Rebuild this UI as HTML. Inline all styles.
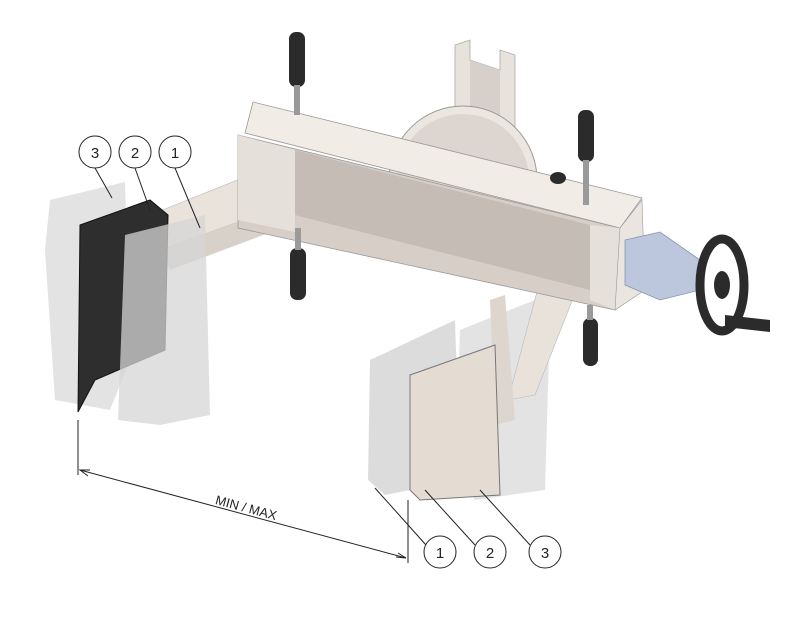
<!DOCTYPE html>
<html><head><meta charset="utf-8"><style>html,body{margin:0;padding:0;background:#fff}svg{display:block}</style></head>
<body>
<svg width="800" height="618" viewBox="0 0 800 618" xmlns="http://www.w3.org/2000/svg" font-family="Liberation Sans, sans-serif">
<!-- post -->
<polygon points="455,45 470,40 470,60 500,70 500,50 515,55 515,150 455,135" fill="#e8e2dc" stroke="#aaa" stroke-width="0.8"/>
<polygon points="470,60 500,70 500,150 470,140" fill="#d7d0ca"/>
<!-- disc -->
<circle cx="463" cy="180" r="74" fill="#ece6e0" stroke="#999" stroke-width="1"/>
<circle cx="463" cy="180" r="66" fill="#ddd6d0"/>
<!-- left arm -->
<polygon points="150,215 275,165 285,205 160,250" fill="#e9e3dc" stroke="#bbb" stroke-width="0.6"/>
<polygon points="160,250 285,205 290,225 170,270" fill="#d8d1ca"/>
<!-- right paddles back -->
<polygon points="460,330 535,300 550,320 545,490 475,500 455,470" fill="#dcdcdc" opacity="0.8"/>
<polygon points="370,360 455,320 460,480 385,495 368,480" fill="#d3d3d3" opacity="0.8"/>
<!-- right arm -->
<polygon points="545,262 575,252 585,268 535,395 508,400" fill="#e9e2db" stroke="#bbb" stroke-width="0.6"/>
<polygon points="490,300 505,295 515,420 495,425" fill="#ddd6cf"/>
<!-- right paddle 2 -->
<polygon points="410,375 495,345 500,495 420,500 410,490" fill="#e4dcd3" stroke="#777" stroke-width="1"/>
<!-- beam -->
<polygon points="245,133 253,102 642,198 620,228" fill="#f1ece6" stroke="#999" stroke-width="0.8"/>
<polygon points="238,135 620,228 615,310 238,228" fill="#d6cec7" stroke="#999" stroke-width="0.8"/>
<polygon points="295,150 590,225 590,290 295,215" fill="#c5bcb5"/>
<polygon points="238,135 295,150 295,232 238,220" fill="#e6e0da"/>
<polygon points="590,225 620,228 615,310 590,300" fill="#e6e0da"/>
<polygon points="620,228 642,200 645,290 615,310" fill="#ebe5df" stroke="#999" stroke-width="0.6"/>
<!-- blue coupling -->
<polygon points="625,240 660,232 700,260 700,290 660,300 625,285" fill="#bcc7de" stroke="#8894b0" stroke-width="0.8"/>
<!-- handwheel -->
<ellipse cx="722" cy="285" rx="22" ry="46" fill="none" stroke="#2b2b2b" stroke-width="9"/>
<ellipse cx="722" cy="285" rx="8" ry="14" fill="#2b2b2b"/>
<polygon points="725,315 770,320 770,332 725,327" fill="#2b2b2b"/>
<!-- handles -->
<g fill="#2b2b2b">
<rect x="289" y="32" width="16" height="55" rx="7"/>
<rect x="578" y="110" width="16" height="52" rx="7"/>
<rect x="290" y="248" width="16" height="52" rx="7"/>
<rect x="583" y="318" width="15" height="48" rx="7"/>
<ellipse cx="558" cy="178" rx="8" ry="6"/>
</g>
<g fill="#9a9a9a">
<rect x="294" y="85" width="6" height="30"/>
<rect x="583" y="160" width="6" height="45"/>
<rect x="295" y="228" width="6" height="22"/>
<rect x="587" y="305" width="6" height="15"/>
</g>
<!-- left paddles -->
<polygon points="50,200 125,182 130,360 110,410 55,400 45,250" fill="#dedede" opacity="0.85"/>
<polygon points="80,225 150,200 168,215 165,350 95,380 78,412" fill="#2e2e2e" stroke="#111"/>
<polygon points="125,235 205,215 210,415 160,425 118,420" fill="#d6d6d6" opacity="0.75"/>
<!-- dimension -->
<g stroke="#222" stroke-width="1" fill="none">
<line x1="78" y1="420" x2="78" y2="475"/>
<line x1="408" y1="500" x2="408" y2="563"/>
<line x1="80" y1="470" x2="406" y2="558"/>
<polyline points="88,476 80,470 90,470"/>
<polyline points="396,557 406,558 398,553"/>
</g>
<text x="245" y="512" font-size="13" fill="#222" transform="rotate(15 245 512)" text-anchor="middle">MIN / MAX</text>
<!-- callouts -->
<g stroke="#222" stroke-width="1" fill="#fff">
<line x1="95" y1="168" x2="112" y2="198"/>
<line x1="135" y1="168" x2="150" y2="210"/>
<line x1="175" y1="168" x2="200" y2="228"/>
<line x1="375" y1="488" x2="426" y2="545"/>
<line x1="425" y1="490" x2="475" y2="545"/>
<line x1="480" y1="490" x2="530" y2="545"/>
<circle cx="95" cy="152" r="16"/><circle cx="135" cy="152" r="16"/><circle cx="175" cy="152" r="16"/>
<circle cx="440" cy="552" r="16"/><circle cx="490" cy="552" r="16"/><circle cx="545" cy="552" r="16"/>
</g>
<g font-size="15" fill="#222" text-anchor="middle">
<text x="95" y="158">3</text><text x="135" y="158">2</text><text x="175" y="158">1</text>
<text x="440" y="558">1</text><text x="490" y="558">2</text><text x="545" y="558">3</text>
</g>
</svg>
</body></html>
